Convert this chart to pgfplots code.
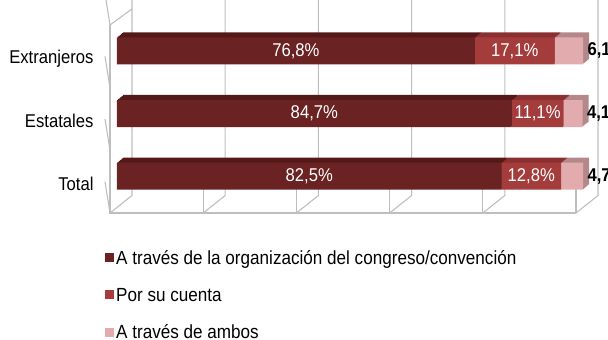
\documentclass[border=0pt]{standalone}
\usepackage{fontspec}
\setmainfont{Liberation Sans}[FakeStretch=0.9]
\usepackage{pgfplots}
\usepackage{pgfplotstable}
\pgfplotsset{compat=1.18}

\definecolor{gridc}{RGB}{190,190,190}
\definecolor{orgA}{RGB}{106,34,34}
\definecolor{orgAtop}{RGB}{84,24,24}
\definecolor{orgB}{RGB}{165,60,60}
\definecolor{orgBtop}{RGB}{138,48,48}
\definecolor{orgC}{RGB}{226,172,174}
\definecolor{orgCtop}{RGB}{180,136,138}

% pos: 2 = Extranjeros, 1 = Estatales, 0 = Total
\pgfplotstableread{
pos a b c
2 76.8 17.1 6.1
1 84.7 11.1 4.1
0 82.5 12.8 4.7
}\datos

\pgfplotsset{
  base/.style={scale only axis, width=466pt, height=188pt,
    xmin=0, xmax=100, ymin=-0.5, ymax=2.5, enlargelimits=false, clip=false},
  barras/.style={base, hide axis, xbar stacked, bar width=27pt},
}

\begin{document}
\begin{tikzpicture}[font=\fontsize{18.5}{21}\selectfont]
% marco 3D
\begin{axis}[base,
    axis line style={draw=none},
    major tick length=0pt, xtick=\empty,
    ytick={0,1,2}, yticklabels={Total,Estatales,Extranjeros},
    yticklabel style={xshift=-13pt, yshift=-2pt}]
\draw[gridc, line width=1.1pt] (axis cs:0,2.5) -- (axis cs:0,-0.5) -- (axis cs:100,-0.5);
\pgfplotsinvokeforeach{0,20,40,60,80,100}{
  \draw[gridc, line width=1.1pt] (axis cs:#1,-0.5) -- ++(0,-5pt);
  \draw[gridc, line width=1.1pt] (axis cs:#1,-0.5) -- ++(22pt,17.5pt) -- ++(0,186pt);
}
\pgfplotsinvokeforeach{-0.5,0.5,1.5,2.5}{
  \draw[gridc, line width=1.1pt] (axis cs:0,#1) -- ++(-5pt,0);
}
\draw[gridc, line width=1.1pt] (axis cs:0,2.5) -- ++(22pt,16pt);
\end{axis}

% caras superiores / laterales
\foreach \s in {6,5,...,1}{
\pgfmathsetmacro\dx{7+\s}
\pgfmathsetmacro\dy{5.5+\s*5/6}
\begin{axis}[barras, at={(\dx pt,\dy pt)}]
\addplot[fill=orgAtop, draw=none] table[x=a, y=pos]{\datos};
\addplot[fill=orgBtop, draw=none] table[x=b, y=pos]{\datos};
\addplot[fill=orgCtop, draw=none] table[x=c, y=pos]{\datos};
\end{axis}
}

% caras frontales y leyenda
\begin{axis}[barras, at={(7pt,5.5pt)},
    legend style={at={(0,0)}, anchor=north west, xshift=-12pt, yshift=-41pt,
      draw=none, fill=none, inner sep=0pt, row sep=18pt,
      font=\fontsize{19}{21}\selectfont},
    legend cell align=left,
    legend image code/.code={\fill[#1] (0pt,-4pt) rectangle (9pt,5pt);}]
\addplot[fill=orgA, draw=none] table[x=a, y=pos]{\datos};
\addplot[fill=orgB, draw=none] table[x=b, y=pos]{\datos};
\addplot[fill=orgC, draw=none] table[x=c, y=pos]{\datos};
\legend{A través de la organización del congreso/convención, Por su cuenta, A través de ambos}
\end{axis}

% etiquetas
\begin{axis}[base, hide axis, at={(7pt,5.5pt)},
    /pgf/number format/assume math mode=true,
    nodes near coords={\pgfmathprintnumber[use comma,fixed,fixed zerofill,precision=1]{\pgfplotspointmeta}\%},
    nodes near coords align={center}]
\addplot[draw=none, mark=none, point meta=\thisrow{a},
  every node near coord/.append style={white, anchor=center}]
  table[x expr=\thisrow{a}/2, y=pos]{\datos};
\addplot[draw=none, mark=none, point meta=\thisrow{b},
  every node near coord/.append style={white, anchor=center}]
  table[x expr=\thisrow{a}+\thisrow{b}/2, y=pos]{\datos};
\addplot[draw=none, mark=none, point meta=\thisrow{c},
  every node near coord/.append style={black, anchor=west, xshift=1pt, font=\fontsize{18.5}{21}\selectfont\bfseries}]
  table[x expr=\thisrow{a}+\thisrow{b}+\thisrow{c}, y=pos]{\datos};
\end{axis}

\pgfresetboundingbox
\path[use as bounding box] (-110pt,-127pt) rectangle (498pt,213pt);
\end{tikzpicture}
\end{document}
